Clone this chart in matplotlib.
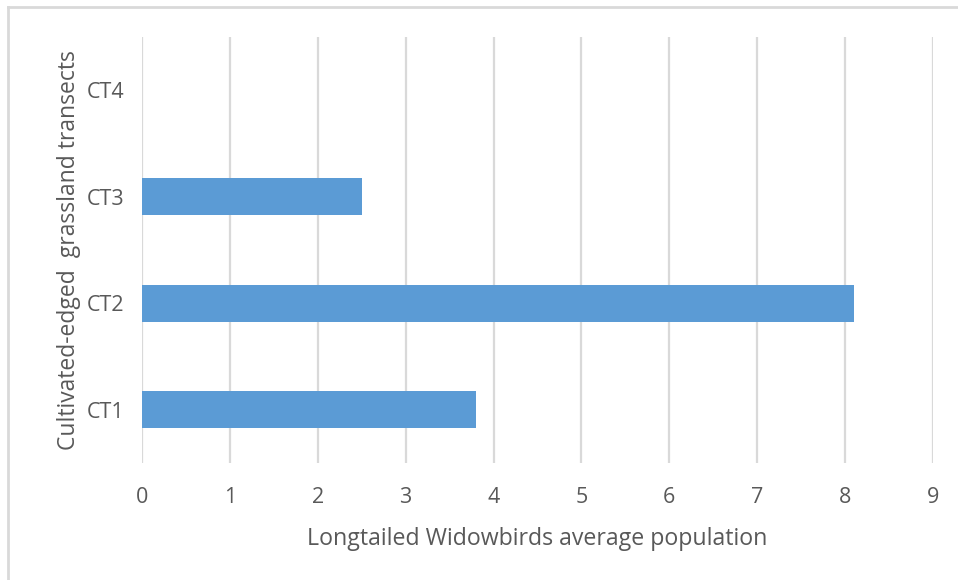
import matplotlib
matplotlib.use("Agg")
import matplotlib.pyplot as plt
from matplotlib.lines import Line2D

# Average Longtailed Widowbird counts per cultivated-edged transect
transects = ["CT1", "CT2", "CT3", "CT4"]
avg_population = [3.8, 8.1, 2.5, 0.0]
x_ticks = list(range(0, 10))

bar_color = "#5b9bd5"
grid_color = "#d9d9d9"
text_color = "#595959"

plt.rcParams.update({
    "font.family": ["Open Sans", "DejaVu Sans"],
    "font.size": 15,
})

fig = plt.figure(figsize=(9.58, 5.8), dpi=100)
ax = fig.add_axes([0.1482, 0.2017, 0.8257, 0.7345])

ypos = list(range(len(transects)))
ax.barh(ypos, avg_population, height=0.35, color=bar_color, zorder=3)

ax.set_xlim(0, 9)
ax.set_ylim(-0.5, len(transects) - 0.5)
ax.set_xticks(x_ticks)
ax.set_yticks(ypos)
ax.set_yticklabels(transects)

ax.grid(axis="x", color=grid_color, linewidth=1.6, zorder=0)
ax.grid(axis="y", visible=False)
for s in ax.spines.values():
    s.set_visible(False)
ax.tick_params(length=0, colors=text_color, labelsize=15.5)
ax.tick_params(axis="x", pad=17)
ax.tick_params(axis="y", pad=13)

ax.set_xlabel("Longtailed Widowbirds average population", color=text_color,
              fontsize=16.7, labelpad=14)
ax.set_ylabel("Cultivated-edged  grassland transects", color=text_color,
              fontsize=16.5, labelpad=4)

# chart frame edges (top and left)
fig.add_artist(Line2D([8 / 958, 8 / 958], [0, 1 - 7 / 580], color=grid_color,
                      linewidth=2, transform=fig.transFigure))
fig.add_artist(Line2D([8 / 958, 1], [1 - 7 / 580, 1 - 7 / 580], color=grid_color,
                      linewidth=2, transform=fig.transFigure))

fig.savefig("out.png", dpi=100)
